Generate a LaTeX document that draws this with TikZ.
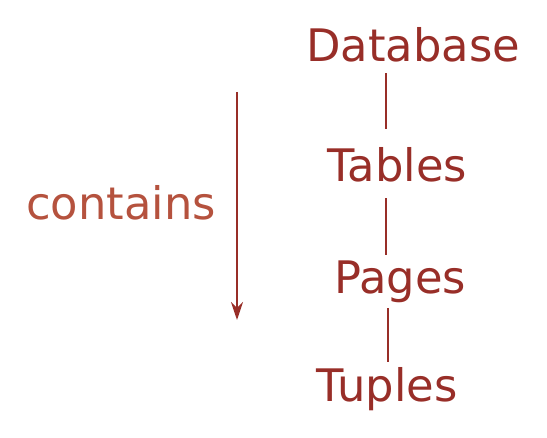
\documentclass[tikz,border=0pt]{standalone}
\usepackage{fontspec}
\setmainfont{DejaVu Sans}
\usetikzlibrary{arrows.meta}
\definecolor{darkred}{RGB}{152,46,40}
\definecolor{rust}{RGB}{181,82,62}

\begin{document}
\begin{tikzpicture}[x=1pt,y=-1pt,
    level/.style={anchor=base,inner sep=0pt,text height=34pt,text depth=9pt,
                  text=darkred,font=\fontsize{44.8}{52}\selectfont},
    link/.style={draw=darkred,line width=1.6pt}]
    \useasboundingbox (0,0) rectangle (547,438);
    \path (413,  62) node [level] (database) {Database};
    \path (397.5,182) node [level] (tables) {Tables};
    \path (400, 294) node [level] (pages) {Pages};
    \path (387, 402) node [level] (tuples) {Tuples};
    \path (121, 220) node [level,text=rust] (contains) {contains};
    \coordinate (from) at (237,  92);
    \coordinate (to)   at (237, 320);
    \draw [link,shorten <=2pt,shorten >=19pt] ([xshift=-27pt]database.south) -- ([xshift=-11.5pt]tables.north);
    \draw [link,shorten <=7pt,shorten >=5pt] ([xshift=-11.5pt]tables.south) -- ([xshift=-14pt]pages.north);
    \draw [link,shorten <=5pt,shorten >=6pt] ([xshift=-12pt]pages.south) -- ([xshift=1pt]tuples.north);
    \draw [link,-{Stealth[length=18pt,width=12pt,inset=6pt]}] (from) -- (to);
\end{tikzpicture}
\end{document}
